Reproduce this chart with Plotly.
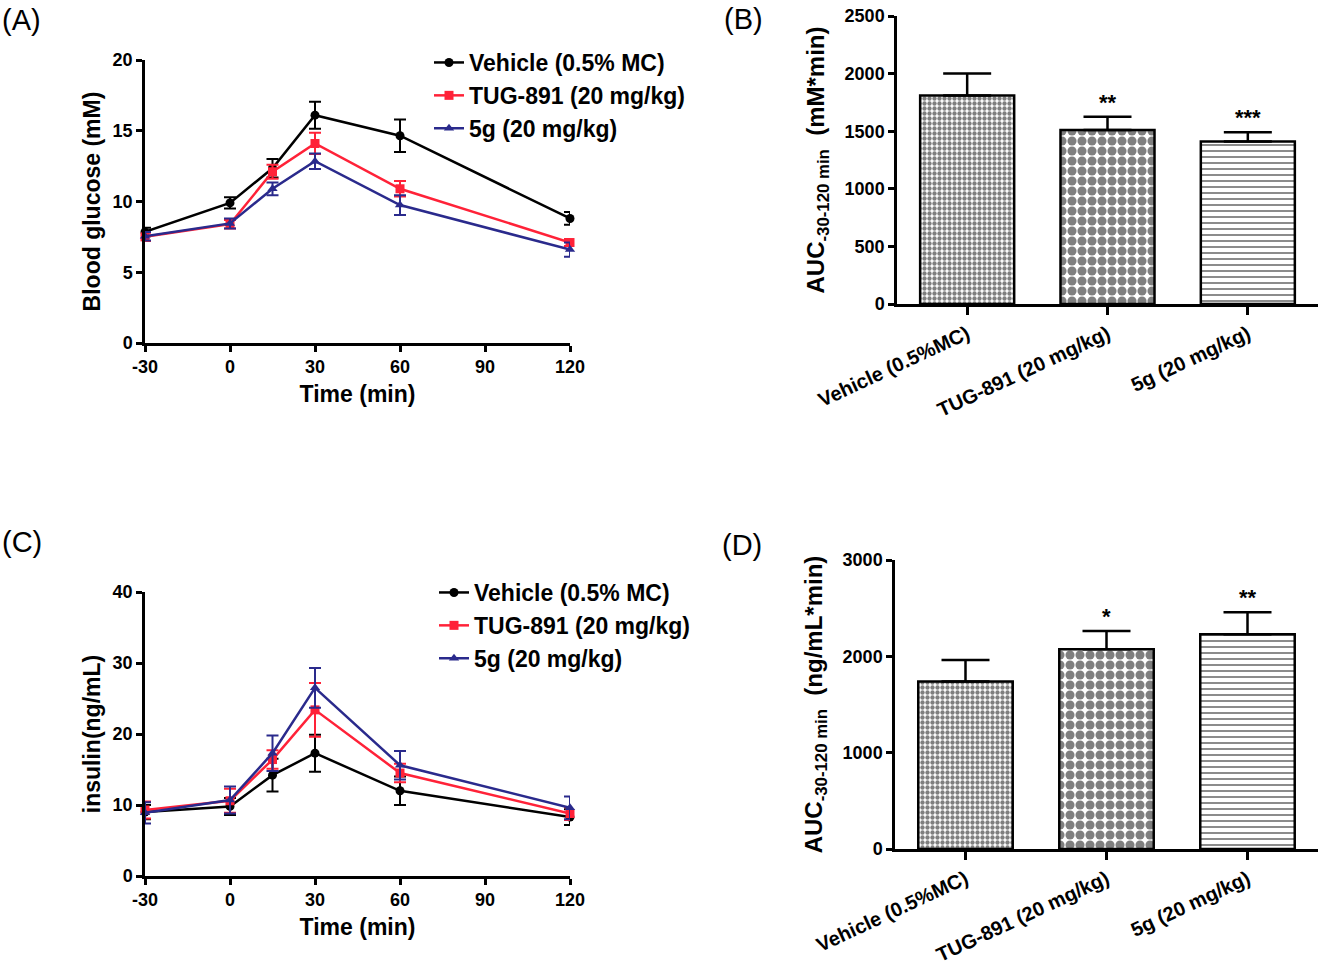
import plotly.graph_objects as go

# ---------------- data ----------------
time_min = [-30, 0, 15, 30, 60, 120]
time_ticks = [-30, 0, 30, 60, 90, 120]
time_tick_labels = ["-30", "0", "30", "60", "90", "120"]
series_names = ["Vehicle (0.5% MC)", "TUG-891 (20 mg/kg)", "5g (20 mg/kg)"]
series_names_c = ["Vehicle (0.5% MC)", "TUG-891 (20 mg/kg)", "5g (20 mg/kg)"]

glucose_vehicle = [7.85, 9.9, 12.35, 16.1, 14.65, 8.8]
glucose_vehicle_err = [0.3, 0.4, 0.65, 0.95, 1.15, 0.45]
glucose_tug = [7.5, 8.4, 12.1, 14.1, 10.9, 7.1]
glucose_tug_err = [0.3, 0.3, 0.5, 0.75, 0.55, 0.25]
glucose_5g = [7.55, 8.45, 10.9, 12.85, 9.75, 6.6]
glucose_5g_err = [0.3, 0.35, 0.45, 0.55, 0.7, 0.5]

insulin_vehicle = [9.0, 9.8, 14.2, 17.3, 12.0, 8.3]
insulin_vehicle_err = [1.0, 1.2, 2.3, 2.6, 2.0, 1.1]
insulin_tug = [9.3, 10.6, 16.4, 23.4, 14.5, 8.8]
insulin_tug_err = [1.2, 1.7, 1.3, 3.8, 1.3, 0.9]
insulin_5g = [8.9, 10.7, 17.3, 26.5, 15.6, 9.6]
insulin_5g_err = [1.5, 1.9, 2.5, 2.8, 2.0, 1.6]

bar_categories = ["Vehicle (0.5%MC)", "TUG-891 (20 mg/kg)", "5g (20 mg/kg)"]
auc_glucose = [1810, 1510, 1410]
auc_glucose_err = [190, 115, 80]
auc_glucose_sig = ["", "**", "***"]
auc_insulin = [1740, 2073, 2229]
auc_insulin_err = [222, 190, 229]
auc_insulin_sig = ["", "*", "**"]

# ---------------- styles ----------------
colors = ["#000000", "#ff2238", "#2a2a8c"]
symbols = ["circle", "square", "triangle-up"]
patterns = [
    dict(shape=".", size=5, solidity=0.6, fgcolor="black", bgcolor="white"),
    dict(shape=".", size=10, solidity=0.65, fgcolor="black", bgcolor="white"),
    dict(shape="-", size=6, solidity=0.3, fgcolor="black", bgcolor="white"),
]

W, H = 1335, 969


def px_x(a, b):
    return [a / W, b / W]


def px_y(top, bottom):
    return [1 - bottom / H, 1 - top / H]


NARROW = "Liberation Sans Narrow, Arial Narrow, Liberation Sans, Arial"
ARIAL = "Liberation Sans, Arial"

fig = go.Figure()

# Panel A
glu = [(glucose_vehicle, glucose_vehicle_err), (glucose_tug, glucose_tug_err), (glucose_5g, glucose_5g_err)]
for i, (vals, errs) in enumerate(glu):
    fig.add_trace(go.Scatter(
        x=time_min, y=vals, mode="lines+markers", name=series_names[i],
        line=dict(color=colors[i], width=2.5),
        marker=dict(symbol=symbols[i], size=9, color=colors[i]),
        error_y=dict(type="data", array=errs, visible=True, color=colors[i], thickness=2, width=6),
        xaxis="x", yaxis="y", legend="legend", legendgroup="a%d" % i, cliponaxis=False,
    ))

# Panel C
ins = [(insulin_vehicle, insulin_vehicle_err), (insulin_tug, insulin_tug_err), (insulin_5g, insulin_5g_err)]
for i, (vals, errs) in enumerate(ins):
    fig.add_trace(go.Scatter(
        x=time_min, y=vals, mode="lines+markers", name=series_names_c[i],
        line=dict(color=colors[i], width=2.5),
        marker=dict(symbol=symbols[i], size=9, color=colors[i]),
        error_y=dict(type="data", array=errs, visible=True, color=colors[i], thickness=2, width=6),
        xaxis="x3", yaxis="y3", legend="legend2", legendgroup="c%d" % i, cliponaxis=False,
    ))

# Panels B and D bars
for i in range(3):
    fig.add_trace(go.Bar(
        x=[bar_categories[i]], y=[auc_glucose[i]], width=0.67,
        marker=dict(color="white", pattern=patterns[i], line=dict(color="black", width=2.5)),
        error_y=dict(type="data", array=[auc_glucose_err[i]], arrayminus=[0], symmetric=False,
                     color="black", thickness=2.5, width=24),
        xaxis="x2", yaxis="y2", showlegend=False,
    ))
    fig.add_trace(go.Bar(
        x=[bar_categories[i]], y=[auc_insulin[i]], width=0.67,
        marker=dict(color="white", pattern=patterns[i], line=dict(color="black", width=2.5)),
        error_y=dict(type="data", array=[auc_insulin_err[i]], arrayminus=[0], symmetric=False,
                     color="black", thickness=2.5, width=24),
        xaxis="x4", yaxis="y4", showlegend=False,
    ))

star_font = dict(size=22, family=ARIAL, color="black", weight="bold")
annotations = []
for i in range(3):
    if auc_glucose_sig[i]:
        annotations.append(dict(x=bar_categories[i], y=auc_glucose[i] + auc_glucose_err[i],
                                xref="x2", yref="y2", text=auc_glucose_sig[i], showarrow=False,
                                yanchor="bottom", yshift=0, font=star_font))
    if auc_insulin_sig[i]:
        annotations.append(dict(x=bar_categories[i], y=auc_insulin[i] + auc_insulin_err[i],
                                xref="x4", yref="y4", text=auc_insulin_sig[i], showarrow=False,
                                yanchor="bottom", yshift=0, font=star_font))

for lab, x, y in [("(A)", 0, 20), ("(B)", 722, 19), ("(C)", 0, 542), ("(D)", 720, 545)]:
    annotations.append(dict(x=x / W, y=1 - y / H, xref="paper", yref="paper", text=lab,
                            showarrow=False, xanchor="left", yanchor="middle",
                            font=dict(size=29, family=ARIAL, color="black")))

axis_common = dict(showline=True, linecolor="black", linewidth=2.5, ticks="outside",
                   ticklen=6, tickwidth=2.5, tickcolor="black", showgrid=False, zeroline=False,
                   automargin=False,
                   tickfont=dict(family=NARROW, size=18, color="black", weight="bold"))

title_font = dict(family=ARIAL, size=23, color="black", weight="bold")
bar_title_font = dict(family=ARIAL, size=24, color="black", weight="bold")
cat_tick_font = dict(family=ARIAL, size=20, color="black", weight="bold")
bar_y_tick_font = dict(family=NARROW, size=18, color="black", weight="bold")
legend_font = dict(family=ARIAL, size=23, color="black", weight="bold")

fig.update_layout(
    width=W, height=H, paper_bgcolor="white", plot_bgcolor="white",
    margin=dict(l=0, r=0, t=0, b=0, autoexpand=False),
    barmode="overlay",
    xaxis=dict(domain=px_x(145, 570), range=[-30, 120], tickvals=time_ticks, ticktext=time_tick_labels,
               title=dict(text="Time (min)", font=title_font, standoff=10), anchor="y", **axis_common),
    yaxis=dict(domain=px_y(60, 343), range=[0, 20], dtick=5,
               title=dict(text="Blood glucose (mM)", font=title_font, standoff=6), anchor="x", **axis_common),
    xaxis2=dict(domain=px_x(897, 1318), range=[-0.5, 2.5], anchor="y2", tickangle=-25,
                **{**axis_common, "tickfont": cat_tick_font, "ticklen": 8}),
    yaxis2=dict(domain=px_y(16, 304), range=[0, 2500], dtick=500, anchor="x2",
                title=dict(text="AUC<sub>-30-120 min</sub>  (mM*min)", font=bar_title_font, standoff=14),
                **{**axis_common, "tickfont": bar_y_tick_font, "ticklabeloverflow": "allow"}),
    xaxis3=dict(domain=px_x(145, 570), range=[-30, 120], tickvals=time_ticks, ticktext=time_tick_labels,
                title=dict(text="Time (min)", font=title_font, standoff=10), anchor="y3", **axis_common),
    yaxis3=dict(domain=px_y(592, 876), range=[0, 40], dtick=10,
                title=dict(text="insulin(ng/mL)", font=title_font, standoff=6), anchor="x3", **axis_common),
    xaxis4=dict(domain=px_x(895, 1318), range=[-0.5, 2.5], anchor="y4", tickangle=-25,
                **{**axis_common, "tickfont": cat_tick_font, "ticklen": 8}),
    yaxis4=dict(domain=px_y(560, 849), range=[0, 3000], dtick=1000, anchor="x4",
                title=dict(text="AUC<sub>-30-120 min</sub>  (ng/mL*min)", font=bar_title_font, standoff=14),
                **{**axis_common, "tickfont": bar_y_tick_font}),
    legend=dict(x=429 / W, y=1 - 41 / H, xanchor="left", yanchor="top",
                bgcolor="rgba(0,0,0,0)", font=legend_font, tracegroupgap=0, itemwidth=30),
    legend2=dict(x=434 / W, y=1 - 571 / H, xanchor="left", yanchor="top",
                 bgcolor="rgba(0,0,0,0)", font=legend_font, tracegroupgap=0, itemwidth=30),
    annotations=annotations,
)

fig.write_html("out.html", config={"displayModeBar": False},
               post_script="document.body.style.margin='0px';")
